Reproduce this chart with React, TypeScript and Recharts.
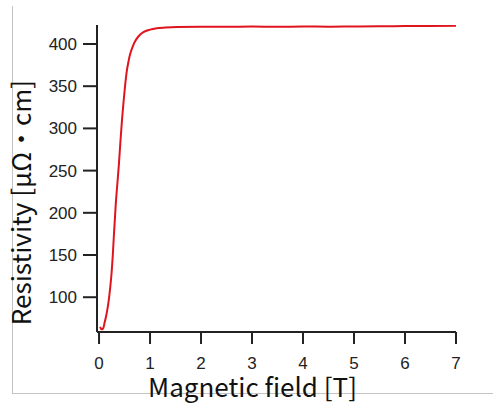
import { LineChart, Line, XAxis, YAxis } from "recharts";

const fieldT = [
  0.02, 0.05, 0.08, 0.11, 0.14, 0.17, 0.2, 0.23, 0.25, 0.27, 0.29, 0.31, 0.33, 0.36, 0.39, 0.42, 0.45,
  0.48, 0.51, 0.54, 0.58, 0.61, 0.66, 0.71, 0.78, 0.87, 1.0, 1.13, 1.3, 1.52, 2.0, 2.5, 3.0, 3.5, 4.0,
  4.5, 5.0, 5.5, 6.0, 6.5, 7.0,
];
const resistivity = [
  65, 62, 63, 70, 78, 88, 101, 118, 132, 150, 172, 192, 212, 235, 258, 285, 310, 331, 350, 366, 380,
  388, 397, 403.5, 409.5, 414, 417, 418.6, 419.5, 420.2, 420.5, 420.3, 420.6, 420.4, 420.7, 420.5,
  420.8, 420.9, 421.2, 421.4, 421.6,
];
const xTicks = [0, 1, 2, 3, 4, 5, 6, 7];
const yTicks = [100, 150, 200, 250, 300, 350, 400];

const data = fieldT.map((x, i) => ({ x, r: resistivity[i] }));

const titleFont = "'Noto Sans CJK JP', 'Noto Sans', sans-serif";
const tickFont = "'Liberation Sans', Arial, sans-serif";

const XTitle = (props: any) => {
  const vb = props.viewBox;
  return (
    <text x={vb.x + vb.width / 2 - 24} y={397} textAnchor="middle" fontSize={26} fontFamily={titleFont} fill="#111">
      Magnetic field [T]
    </text>
  );
};

const YTitle = (props: any) => {
  const vb = props.viewBox;
  const cy = vb.y + vb.height / 2 + 24;
  return (
    <text x={31} y={cy} transform={`rotate(-90, 31, ${cy})`} textAnchor="middle" fontSize={26} fontFamily={titleFont} fill="#111">
      Resistivity [μΩ・cm]
    </text>
  );
};

export default function App() {
  return (
    <div style={{ position: "absolute", left: 0, top: 0, width: 493, height: 404, background: "#fff" }}>
      {/* gray frame, left and bottom only */}
      <div
        style={{
          position: "absolute",
          left: 12,
          top: 6,
          width: 481,
          height: 387,
          borderLeft: "1px solid #c4c4c4",
          borderBottom: "1px solid #c4c4c4",
        }}
      />
      <LineChart width={493} height={404} data={data} margin={{ top: 25, right: 37, left: 0, bottom: 0 }} style={{ position: "absolute", left: 0, top: 0 }}>
        <XAxis
          dataKey="x"
          type="number"
          domain={[-0.04, 7]}
          ticks={xTicks}
          height={72}
          tickSize={12}
          tickMargin={13}
          stroke="#222"
          strokeWidth={2}
          tick={{ fill: "#222", fontSize: 17, fontFamily: tickFont }}
          label={<XTitle />}
        />
        <YAxis
          type="number"
          domain={[58.8, 422.5]}
          ticks={yTicks}
          allowDataOverflow
          width={97}
          tickSize={14}
          tickMargin={6}
          stroke="#222"
          strokeWidth={2}
          tick={{ fill: "#222", fontSize: 17, fontFamily: tickFont }}
          label={<YTitle />}
        />
        <Line dataKey="r" type="monotone" stroke="#e0141e" strokeWidth={2} dot={false} isAnimationActive={false} />
      </LineChart>
    </div>
  );
}
